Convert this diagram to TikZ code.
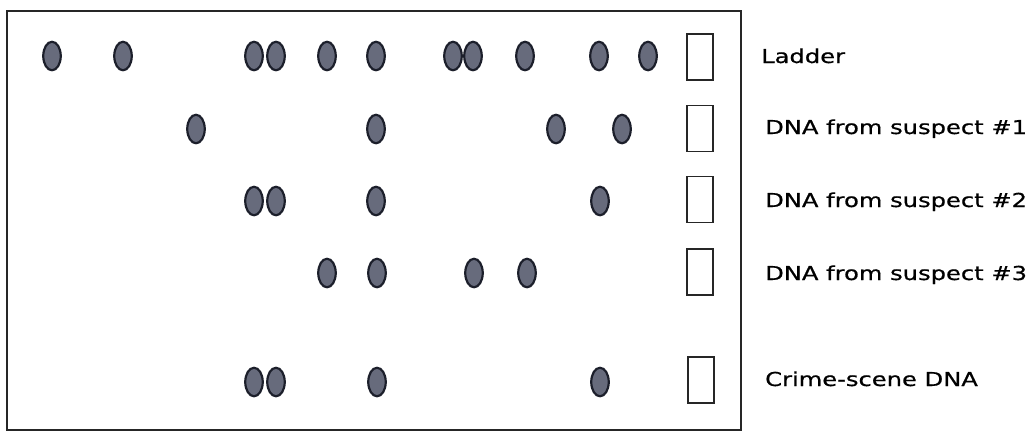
\documentclass[tikz,border=0pt]{standalone}
\usepackage{fontspec}
\setmainfont{DejaVu Sans}
\newfontfamily\lblfont[FakeBold=0.6]{DejaVu Sans}
\usetikzlibrary{shapes.geometric}
\definecolor{bandfill}{HTML}{676B7C}
\definecolor{bandline}{HTML}{1C1F2B}
\tikzset{
  band/.style={ellipse, draw=bandline, fill=bandfill, line width=2.2pt,
    minimum width=17.5pt, minimum height=28.5pt, inner sep=0pt},
  well/.style={draw=black!85, line width=1.2pt, fill=white,
    minimum width=26pt, minimum height=46pt, inner sep=0pt},
  lbl/.style={anchor=base west, inner sep=0pt, font=\lblfont\fontsize{19.2pt}{22pt}\selectfont, text=black}
}
\newcommand{\wide}[1]{\scalebox{1.26}[1]{#1}}
\begin{document}
\begin{tikzpicture}[x=1pt,y=-1pt]
\useasboundingbox (0,0) rectangle (1034,432);
\fill[white] (0,0) rectangle (1034,432);
\draw[line width=1.5pt, black!85] (7,11) rectangle (741,430);
% Ladder row
\foreach \x [count=\i] in {52,123,254,276,327,376,453,473,525,599,648}
  \node[band] (l\i) at (\x,56) {};
% Suspect 1
\foreach \x [count=\i] in {196,376,556,622}
  \node[band] (a\i) at (\x,129) {};
% Suspect 2
\foreach \x [count=\i] in {254,276,376,600}
  \node[band] (b\i) at (\x,201) {};
% Suspect 3
\foreach \x [count=\i] in {327,377,474,527}
  \node[band] (c\i) at (\x,273) {};
% Crime scene
\foreach \x [count=\i] in {254,276,377,600}
  \node[band] (d\i) at (\x,382) {};
% wells
\node[well] (w1) at (700,57) {};
\node[well] (w2) at (700,128.5) {};
\node[well] (w3) at (700,199.5) {};
\node[well] (w4) at (700,272) {};
\node[well] (w5) at (701,380) {};
% labels
\node[lbl] (t1) at (761,63) {\wide{Ladder}};
\node[lbl] (t2) at (765,134) {\wide{DNA from suspect \#1}};
\node[lbl] (t3) at (765,207) {\wide{DNA from suspect \#2}};
\node[lbl] (t4) at (765,280) {\wide{DNA from suspect \#3}};
\node[lbl] (t5) at (765,386) {\wide{Crime-scene DNA}};
\end{tikzpicture}
\end{document}
